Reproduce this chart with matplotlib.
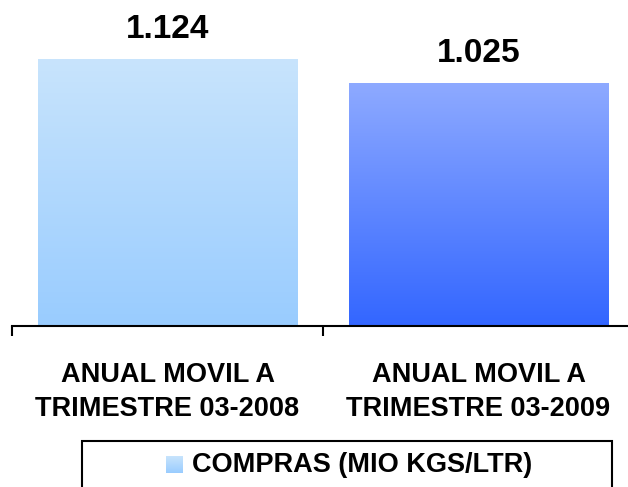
import matplotlib
matplotlib.use('Agg')
import matplotlib.pyplot as plt
import numpy as np
from matplotlib.colors import LinearSegmentedColormap
from matplotlib.patches import Rectangle

categories = ['ANUAL MOVIL A\nTRIMESTRE 03-2008', 'ANUAL MOVIL A\nTRIMESTRE 03-2009']
values = [1.124, 1.025]
labels = ['1.124', '1.025']
serie = 'COMPRAS (MIO KGS/LTR)'

# top color, bottom color per bar
grad_colors = [('#c8e4fc', '#99ccff'), ('#8eaaff', '#3366ff')]

plt.rcParams['font.family'] = ['Liberation Sans', 'DejaVu Sans']

W, H = 628, 487
fig = plt.figure(figsize=(W / 100, H / 100), dpi=100)

base_px = 326      # pixel row of the baseline
top_px = 59        # pixel row of the top of the tallest bar
ax = fig.add_axes([12 / W, (H - base_px) / H, 622 / W, base_px / H])
ymax = max(values) * base_px / (base_px - top_px)

x = np.arange(len(categories))
bars = ax.bar(x, values, width=0.835, color='none', edgecolor='none')

grad = np.linspace(1, 0, 256).reshape(-1, 1)
for bar, (c_top, c_bot) in zip(bars, grad_colors):
    cmap = LinearSegmentedColormap.from_list('g', [c_bot, c_top])
    bx, bw, bh = bar.get_x(), bar.get_width(), bar.get_height()
    im = ax.imshow(grad, cmap=cmap, aspect='auto', extent=(bx, bx + bw, 0, bh), zorder=2)
    im.set_clip_path(bar)

for xi, v, lab in zip(x, values, labels):
    ax.annotate(lab, (xi, v), xytext=(0, 10), textcoords='offset points',
                ha='center', va='bottom', fontsize=24, fontweight='bold')

ax.set_xlim(-0.5, len(categories) - 0.5)
ax.set_ylim(0, ymax)

for s in ['top', 'right', 'left']:
    ax.spines[s].set_visible(False)
ax.spines['bottom'].set_linewidth(1.5)
ax.set_yticks([])
ax.set_xticks(x)
ax.set_xticklabels(categories, fontsize=19.5, fontweight='bold', linespacing=1.4)
ax.tick_params(axis='x', which='major', length=0, pad=26)
ax.set_xticks(np.arange(len(categories) + 1) - 0.5, minor=True)
ax.tick_params(axis='x', which='minor', length=7.2, width=1.5, direction='out')

# legend box drawn by hand
fig.patches.append(Rectangle((82 / W, -10 / H), 530 / W, (H - 441 + 10) / H,
                             transform=fig.transFigure, fill=False,
                             edgecolor='black', linewidth=1.5))
sw = fig.add_axes([166 / W, (H - 473) / H, 17 / W, 17 / H])
sw.imshow(grad, cmap=LinearSegmentedColormap.from_list('s', [grad_colors[0][1], grad_colors[0][0]]),
          aspect='auto')
sw.axis('off')
fig.text(192 / W, (H - 465) / H, serie, fontsize=19.5, fontweight='bold',
         ha='left', va='center')

fig.savefig('out.png', dpi=100)
